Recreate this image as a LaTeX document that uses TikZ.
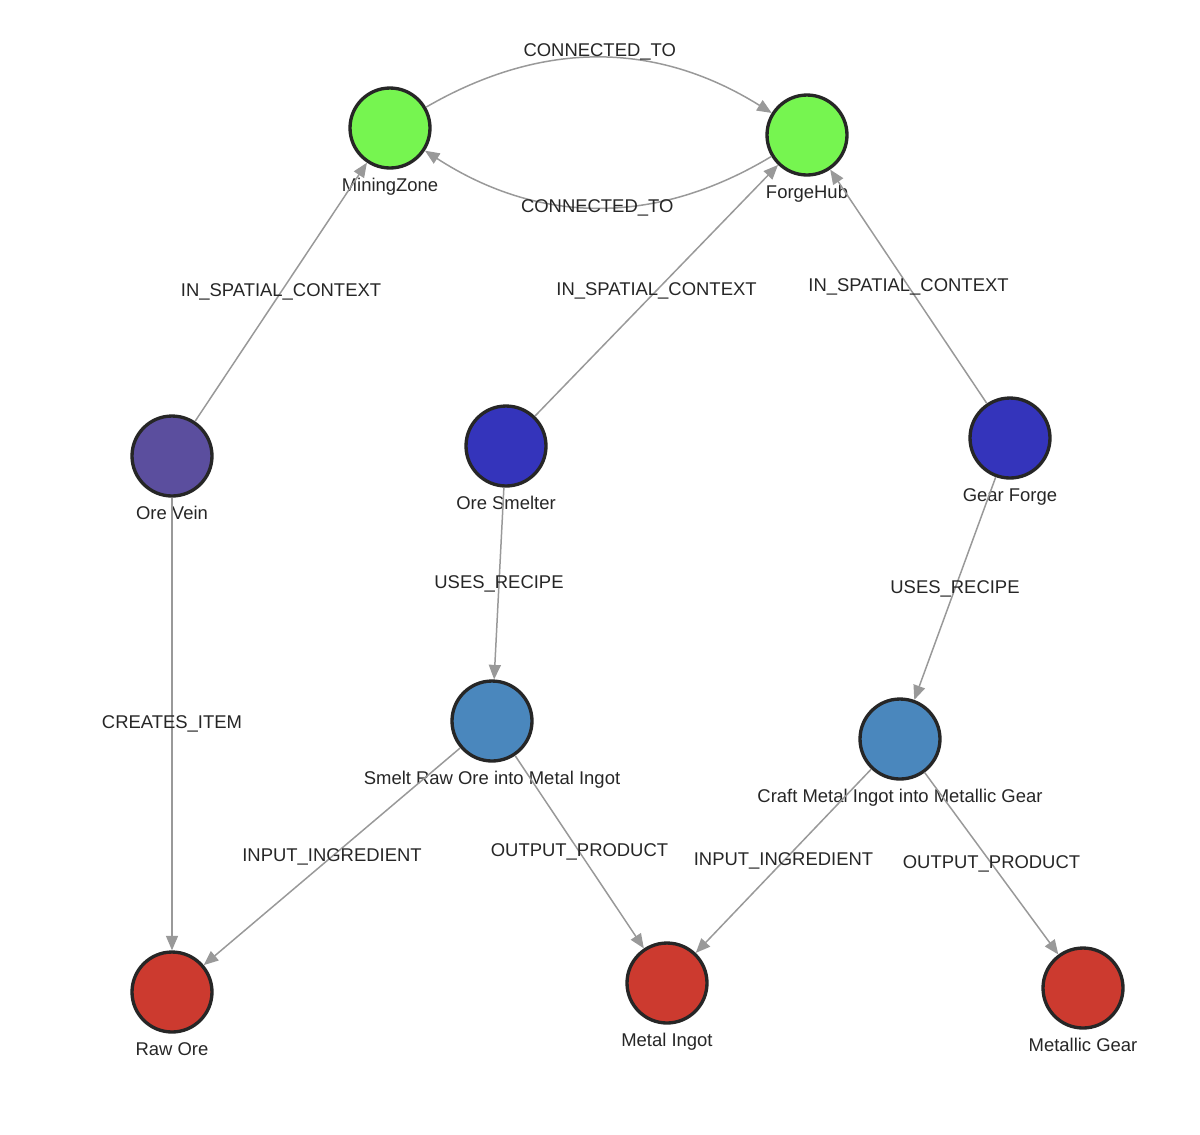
\documentclass[tikz,border=0pt]{standalone}
\usepackage{fontspec}
\setmainfont{Liberation Sans}
\usetikzlibrary{arrows.meta}
\definecolor{zonegreen}{HTML}{76F550}
\definecolor{veinpurple}{HTML}{5B4E9E}
\definecolor{stationblue}{HTML}{3434BB}
\definecolor{recipeblue}{HTML}{4A87BD}
\definecolor{itemred}{HTML}{CC3A2F}
\begin{document}
\begin{tikzpicture}[
        x=0.02cm, y=-0.02cm,
        >={Triangle[length=2.9mm, width=2.4mm]},
        font=\fontsize{10.5}{12}\selectfont,
        entity/.style={circle, draw=black!85, line width=1.9pt, minimum size=1.6cm, inner sep=0pt},
        nlabel/.style={label={[anchor=base, label distance=0.44cm, text=black!85]below:#1}},
        rel/.style={->, draw=black!40, line width=0.85pt},
        rellbl/.style={midway, text=black!85, inner sep=1pt}
    ]
        \useasboundingbox (0,0) rectangle (1200,1134);

        \node[entity, fill=zonegreen, nlabel=MiningZone] (zone) at (390,128) {};
        \node[entity, fill=zonegreen, nlabel=ForgeHub] (hub) at (807,135) {};
        \node[entity, fill=veinpurple, nlabel=Ore Vein] (vein) at (172,456) {};
        \node[entity, fill=stationblue, nlabel=Ore Smelter] (smelter) at (506,446) {};
        \node[entity, fill=stationblue, nlabel=Gear Forge] (gforge) at (1010,438) {};
        \node[entity, fill=recipeblue, nlabel=Smelt Raw Ore into Metal Ingot] (smelt) at (492,721) {};
        \node[entity, fill=recipeblue, nlabel=Craft Metal Ingot into Metallic Gear] (craft) at (900,739) {};
        \node[entity, fill=itemred, nlabel=Raw Ore] (rawore) at (172,992) {};
        \node[entity, fill=itemred, nlabel=Metal Ingot] (ingot) at (667,983) {};
        \node[entity, fill=itemred, nlabel=Metallic Gear] (gear) at (1083,988) {};

        \draw[rel] (zone) to[bend left=31] node[rellbl, yshift=0.12cm] (conn1) {CONNECTED\_TO} (hub);
        \draw[rel] (hub) to[bend left=32] node[rellbl] (conn2) {CONNECTED\_TO} (zone);
        \draw[rel] (vein) -- node[rellbl] (ctx1) {IN\_SPATIAL\_CONTEXT} (zone);
        \draw[rel] (smelter) -- node[rellbl] (ctx2) {IN\_SPATIAL\_CONTEXT} (hub);
        \draw[rel] (gforge) -- node[rellbl] (ctx3) {IN\_SPATIAL\_CONTEXT} (hub);
        \draw[rel] (vein) -- node[rellbl] (creates) {CREATES\_ITEM} (rawore);
        \draw[rel] (smelter) -- node[rellbl] (uses1) {USES\_RECIPE} (smelt);
        \draw[rel] (gforge) -- node[rellbl] (uses2) {USES\_RECIPE} (craft);
        \draw[rel] (smelt) -- node[rellbl] (in1) {INPUT\_INGREDIENT} (rawore);
        \draw[rel] (smelt) -- node[rellbl] (out1) {OUTPUT\_PRODUCT} (ingot);
        \draw[rel] (craft) -- node[rellbl] (in2) {INPUT\_INGREDIENT} (ingot);
        \draw[rel] (craft) -- node[rellbl] (out2) {OUTPUT\_PRODUCT} (gear);
    \end{tikzpicture}
\end{document}
